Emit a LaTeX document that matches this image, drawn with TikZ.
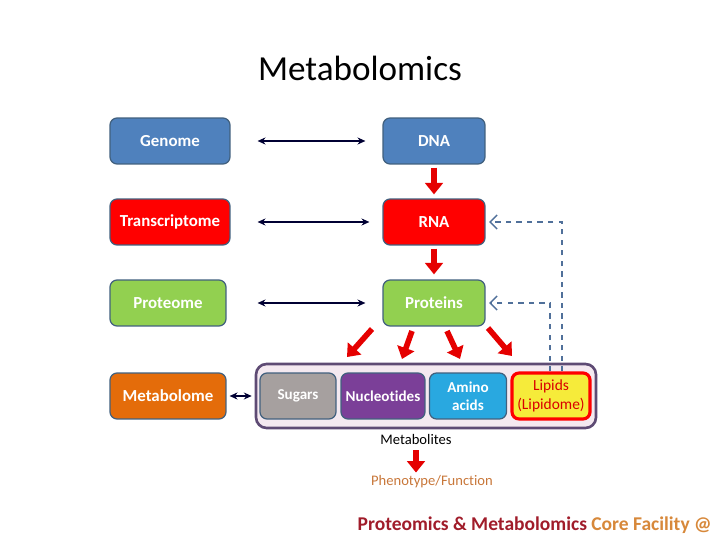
\documentclass[tikz,border=0pt]{standalone}
\usepackage{fontspec}
\setmainfont[Ligatures=NoCommon]{Carlito}
\usepackage{tikz}
\usetikzlibrary{arrows.meta,positioning}
\definecolor{GenBlue}{HTML}{4F81BD}
\definecolor{GenRed}{HTML}{FF0000}
\definecolor{GenGreen}{HTML}{92D050}
\definecolor{MetOrange}{HTML}{E46C0A}
\definecolor{SugGray}{HTML}{A6A09F}
\definecolor{NucPurple}{HTML}{7B3F98}
\definecolor{AmiCyan}{HTML}{29A8E0}
\definecolor{LipYellow}{HTML}{F6EB3A}
\definecolor{FrameGray}{HTML}{41607E}
\definecolor{BoxPurple}{HTML}{5E4B74}
\definecolor{BoxFill}{HTML}{F4E9F0}
\definecolor{FbBlue}{HTML}{50709A}
\definecolor{DarkRed}{HTML}{A01C2A}
\definecolor{CoreOrange}{HTML}{D7883A}
\definecolor{PhenOrange}{HTML}{C8773A}

\begin{document}
\begin{tikzpicture}[x=0.02cm, y=-0.02cm,
  bx/.style={draw=FrameGray, rounded corners=4pt, text=white,
             font=\fontsize{9.6}{11}\selectfont\bfseries, line width=0.7pt,
             minimum height=0.92cm, align=center, inner sep=2pt},
  mb/.style={bx, font=\fontsize{8.6}{10.5}\selectfont\bfseries},
  blk/.style={line width=3.2pt, draw=GenRed!90!black,
              -{Triangle[width=10pt,length=6.5pt]}},
  dbl/.style={{Stealth[length=4.5pt,width=4pt]}-{Stealth[length=4.5pt,width=4pt]},
              thick, black!80!blue},
  fb/.style={dashed, FbBlue, thick, -{Straight Barb[length=4pt]}, shorten >=2pt},
  >=Stealth]
  \useasboundingbox (0,0) rectangle (720,540);
  \node[font=\fontsize{20}{24}\selectfont] (title) at (360,68) {Metabolomics};
  % omics column
  \node[bx,fill=GenBlue,minimum width=2.4cm] (Gen) at (170,141) {Genome};
  \node[bx,fill=GenRed,minimum width=2.4cm] (Tra) at (170,222) {Transcriptome};
  \node[bx,fill=GenGreen,minimum width=2.32cm] (Pro) at (168,303) {Proteome};
  \node[bx,fill=MetOrange,minimum width=2.32cm] (Met) at (168,396) {Metabolome};
  % molecule column
  \node[bx,fill=GenBlue,minimum width=2.04cm] (DNA) at (434,141) {DNA};
  \node[bx,fill=GenRed,minimum width=2.04cm] (RNA) at (434,222) {RNA};
  \node[bx,fill=GenGreen,minimum width=2.04cm] (Prt) at (434,303) {Proteins};
  % metabolites
  \node[draw=BoxPurple, line width=1.5pt, fill=BoxFill, rounded corners=6pt,
        minimum width=6.8cm, minimum height=1.28cm] (mets) at (426,396) {};
  \node[mb,fill=SugGray,minimum width=1.52cm] (Sug) at (298,396) {Sugars};
  \node[mb,fill=NucPurple,minimum width=1.68cm] (Nuc) at (383,396) {Nucleotides};
  \node[mb,fill=AmiCyan,minimum width=1.54cm] (Ami) at (468,396) {Amino\\acids};
  \node[mb,fill=LipYellow,draw=GenRed,line width=1.8pt,text=GenRed!85!black,
        font=\fontsize{8.8}{10.5}\selectfont,minimum width=1.56cm] (Lip) at (551,396)
        {Lipids\\(Lipidome)};
  \node[font=\fontsize{8.3}{9}\selectfont] (lab) at (416,439) {Metabolites};
  \node[font=\fontsize{8.3}{9}\selectfont, text=PhenOrange] (phen) at (432,482)
        {Phenotype/Function};
  % double arrows
  \draw[dbl] ([xshift=0.54cm]Gen.east) -- ([xshift=-0.34cm]DNA.west);
  \draw[dbl] ([xshift=0.54cm]Tra.east) -- ([xshift=-0.26cm]RNA.west);
  \draw[dbl] ([xshift=0.62cm]Pro.east) -- ([xshift=-0.34cm]Prt.west);
  \draw[dbl] ([xshift=0.06cm]Met.east) -- ([xshift=-0.06cm]mets.west);
  % block arrows
  \draw[blk] ([yshift=-0.06cm]DNA.south) -- ([yshift=0.08cm]RNA.north);
  \draw[blk] ([yshift=-0.06cm]RNA.south) -- ([yshift=0.1cm]Prt.north);
  \coordinate (h1) at (347,357);
  \coordinate (h2) at (402,359);
  \coordinate (h3) at (460,359);
  \coordinate (h4) at (512,356);
  \draw[blk] (372,329) -- (h1);
  \draw[blk] (412,331) -- (h2);
  \draw[blk] (447,331) -- (h3);
  \draw[blk] (488,328) -- (h4);
  \draw[blk] (lab.south) -- ([yshift=-0.06cm]phen.north -| lab.south);
  % feedback
  \draw[fb] ([xshift=0.22cm]Lip.north) |- (RNA.east);
  \draw[fb] ([xshift=-0.02cm]Lip.north) |- (Prt.east);
  % footer
  \node[font=\fontsize{11.1}{13}\selectfont\bfseries, anchor=east, inner sep=0pt]
    (foot) at (712,525)
    {\textcolor{DarkRed}{Proteomics \& Metabolomics} \textcolor{CoreOrange}{Core Facility @}};
\end{tikzpicture}
\end{document}
